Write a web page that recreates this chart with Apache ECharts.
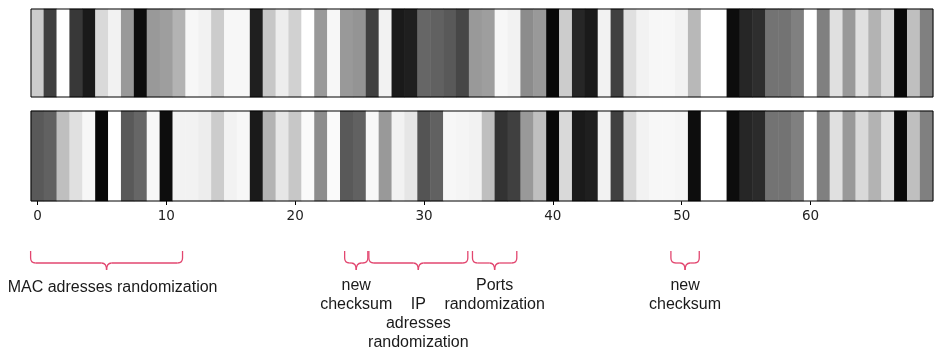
<!DOCTYPE html>
<html>
<head>
<meta charset="utf-8">
<script src="https://cdn.jsdelivr.net/npm/echarts@6/dist/echarts.min.js"></script>
<style>
  html, body { margin: 0; padding: 0; background: #fff; }
  #main { width: 937px; height: 355px; }
</style>
</head>
<body>
<div id="main"></div>
<script>
// byte positions 0..69
var positions = Array.from({ length: 70 }, function (_, i) { return i; });
var tickLabels = ['0', '10', '20', '30', '40', '50', '60'];

// gray level per byte (0 = black, 1 = white)
var topRow = [
  0.80, 0.25, 1.00, 0.22, 0.10, 0.85, 0.95, 0.60, 0.05, 0.60,
  0.62, 0.70, 0.97, 0.95, 0.80, 0.97, 0.97, 0.12, 0.78, 0.93,
  0.82, 1.00, 0.60, 0.97, 0.60, 0.58, 0.25, 0.95, 0.10, 0.12,
  0.40, 0.38, 0.35, 0.28, 0.60, 0.62, 0.97, 0.95, 0.55, 0.60,
  0.03, 0.80, 0.15, 0.10, 0.95, 0.25, 0.88, 0.95, 0.97, 0.97,
  0.95, 0.72, 1.00, 1.00, 0.05, 0.15, 0.18, 0.45, 0.45, 0.50,
  1.00, 0.50, 0.88, 0.60, 0.88, 0.70, 0.85, 0.03, 0.75, 0.50
];
var bottomRow = [
  0.35, 0.38, 0.75, 0.88, 0.97, 0.03, 1.00, 0.35, 0.40, 0.97,
  0.05, 0.95, 0.95, 0.93, 0.80, 0.95, 0.97, 0.10, 0.70, 0.90,
  0.78, 0.98, 0.55, 0.98, 0.35, 0.38, 0.97, 0.60, 0.95, 0.90,
  0.33, 0.38, 0.97, 0.96, 0.95, 0.75, 0.20, 0.25, 0.60, 0.75,
  0.03, 0.85, 0.10, 0.12, 0.95, 0.25, 0.85, 0.95, 0.97, 0.97,
  0.96, 0.05, 1.00, 1.00, 0.05, 0.15, 0.17, 0.45, 0.45, 0.50,
  1.00, 0.50, 0.88, 0.60, 0.85, 0.70, 0.88, 0.03, 0.75, 0.50
];

// annotation braces, in byte units
var braceSpans = [[-0.53, 11.26], [23.84, 25.64], [25.72, 33.4], [33.76, 37.2], [49.16, 51.36]];
var braceLabels = [
  'MAC adresses randomization',
  'new\nchecksum',
  '\nIP\nadresses\nrandomization',
  'Ports\nrandomization',
  'new\nchecksum'
];

function toCells(row) {
  return row.map(function (v, i) { return [i, 0, v]; });
}

var chart = echarts.init(document.getElementById('main'), null, { renderer: 'canvas' });

var option = {
  animation: false,
  backgroundColor: '#fff',
  grid: [
    { left: 31, top: 9, width: 902, height: 88, show: true, z: 10,
      backgroundColor: 'transparent', borderColor: '#000', borderWidth: 1 },
    { left: 31, top: 111, width: 902, height: 90, show: true, z: 10,
      backgroundColor: 'transparent', borderColor: '#000', borderWidth: 1 }
  ],
  xAxis: [
    { type: 'category', gridIndex: 0, data: positions, show: false },
    {
      type: 'category', gridIndex: 1, data: positions,
      axisLine: { show: false },
      axisTick: {
        show: true, alignWithLabel: true, length: 4,
        interval: function (i) { return tickLabels.indexOf(String(i)) >= 0; },
        lineStyle: { color: '#000' }
      },
      axisLabel: {
        interval: 0, margin: 8, color: '#222',
        fontFamily: 'DejaVu Sans', fontSize: 13.5,
        formatter: function (v) { return tickLabels.indexOf(String(v)) >= 0 ? v : ''; }
      },
      splitLine: { show: false }
    }
  ],
  yAxis: [
    { type: 'category', gridIndex: 0, data: ['a'], show: false },
    { type: 'category', gridIndex: 1, data: ['b'], show: false }
  ],
  visualMap: {
    show: false, min: 0, max: 1, seriesIndex: [0, 1],
    inRange: { color: ['#000000', '#ffffff'] }
  },
  series: [
    { type: 'heatmap', xAxisIndex: 0, yAxisIndex: 0, data: toCells(topRow) },
    { type: 'heatmap', xAxisIndex: 1, yAxisIndex: 1, data: toCells(bottomRow) }
  ]
};

chart.setOption(option);

// braces + labels placed from the axis scale
var p0 = chart.convertToPixel({ xAxisIndex: 1 }, 0);
var p10 = chart.convertToPixel({ xAxisIndex: 1 }, 10);
var step = (p10 - p0) / 10;
function px(u) { return p0 + u * step; }

var braceColor = '#e2466f';
var yTop = 251, yH = 263, yTip = 270, r = 5;
var graphics = [];
function seg(a, b, c, d) {
  graphics.push({ type: 'line', shape: { x1: a, y1: b, x2: c, y2: d },
    style: { stroke: braceColor, lineWidth: 1.3 } });
}
function curve(a, b, c, d, cx, cy) {
  graphics.push({ type: 'bezierCurve', shape: { x1: a, y1: b, x2: c, y2: d, cpx1: cx, cpy1: cy },
    style: { stroke: braceColor, lineWidth: 1.3, fill: null } });
}
braceSpans.forEach(function (s, k) {
  var x1 = px(s[0]), x2 = px(s[1]), xm = (x1 + x2) / 2;
  seg(x1, yTop, x1, yH - r);
  curve(x1, yH - r, x1 + r, yH, x1, yH);
  seg(x1 + r, yH, xm - r, yH);
  curve(xm - r, yH, xm, yTip, xm, yH);
  curve(xm, yTip, xm + r, yH, xm, yH);
  seg(xm + r, yH, x2 - r, yH);
  curve(x2 - r, yH, x2, yH - r, x2, yH);
  seg(x2, yH - r, x2, yTop);
  var tx = k === 0 ? xm + 6 : xm;
  graphics.push({
    type: 'text', x: tx, y: k === 0 ? 278 : 276,
    style: {
      text: braceLabels[k], fill: '#1a1a1a',
      font: '16px "Liberation Sans", Arial, sans-serif',
      align: 'center', verticalAlign: 'top', lineHeight: 19
    }
  });
});

chart.setOption({ graphic: graphics });
</script>
</body>
</html>
